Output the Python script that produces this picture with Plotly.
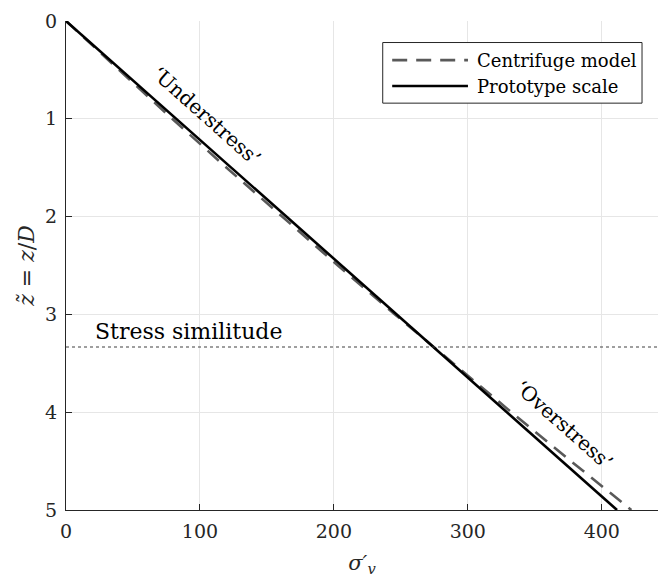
import plotly.graph_objects as go

# Normalised depth below the surface
z_norm = [0.0, 0.5, 1.0, 1.5, 2.0, 2.5, 3.0, 3.5, 4.0, 4.5, 5.0]
# Vertical effective stress in the centrifuge model (nonlinear g-field)
sigma_centrifuge = [0.0, 39.3, 79.3, 119.9, 161.1, 203.0, 245.6, 288.7, 332.5, 377.0, 422.1]
# Vertical effective stress at prototype scale (uniform gravity)
sigma_prototype = [0.0, 41.1, 82.3, 123.4, 164.6, 205.7, 246.9, 288.0, 329.2, 370.3, 411.4]
# Depth at which model and prototype stresses coincide
z_similitude = 10 / 3

x_ticks = [0, 100, 200, 300, 400]
y_ticks = [0, 1, 2, 3, 4, 5]

SERIF = "DejaVu Serif"
INK = "#262626"

fig = go.Figure()

fig.add_trace(go.Scatter(
    x=sigma_centrifuge, y=z_norm, mode="lines", name="Centrifuge model",
    line=dict(color="#595959", width=2.6, dash="15px,9px"), showlegend=False,
))
fig.add_trace(go.Scatter(
    x=sigma_prototype, y=z_norm, mode="lines", name="Prototype scale",
    line=dict(color="#000000", width=2.6), showlegend=False,
))

# Dotted line marking stress similitude
fig.add_shape(type="line", xref="paper", yref="y", x0=0, x1=1,
              y0=z_similitude, y1=z_similitude,
              line=dict(color="#404040", width=1.2, dash="dot"))

annotations = [
    dict(x=20, y=z_similitude, xref="x", yref="y", text="Stress similitude",
         showarrow=False, xanchor="left", yanchor="bottom", yshift=1,
         font=dict(family=SERIF, size=22, color="#000")),
    dict(x=105, y=0.97, xref="x", yref="y", text="\u2018Understress\u2019",
         showarrow=False, textangle=41.6,
         font=dict(family=SERIF, size=20, color="#000")),
    dict(x=372, y=4.13, xref="x", yref="y", text="\u2018Overstress\u2019",
         showarrow=False, textangle=41.6,
         font=dict(family=SERIF, size=20, color="#000")),
]

# Legend box drawn in paper coordinates
fig.add_shape(type="rect", xref="paper", yref="paper",
              x0=0.535, x1=0.973, y0=0.832, y1=0.956,
              line=dict(color=INK, width=1), fillcolor="white", layer="above")
fig.add_shape(type="line", xref="paper", yref="paper",
              x0=0.551, x1=0.679, y0=0.920, y1=0.920,
              line=dict(color="#595959", width=2.6, dash="15px,9px"), layer="above")
fig.add_shape(type="line", xref="paper", yref="paper",
              x0=0.551, x1=0.679, y0=0.867, y1=0.867,
              line=dict(color="#000000", width=2.6), layer="above")
annotations += [
    dict(x=0.691, y=0.920, xref="paper", yref="paper", text="Centrifuge model",
         showarrow=False, xanchor="left", yanchor="middle",
         font=dict(family=SERIF, size=18, color="#000")),
    dict(x=0.691, y=0.867, xref="paper", yref="paper", text="Prototype scale",
         showarrow=False, xanchor="left", yanchor="middle",
         font=dict(family=SERIF, size=18, color="#000")),
]

axis_common = dict(
    showgrid=True, gridcolor="#e6e6e6", gridwidth=1,
    showline=True, linecolor=INK, linewidth=1.2,
    ticks="inside", ticklen=6, tickcolor=INK, tickwidth=1,
    tickfont=dict(family=SERIF, size=19, color=INK),
    zeroline=False, mirror=False,
)

fig.update_xaxes(range=[0, 442], tickvals=x_ticks, ticklabelstandoff=4,
                 title=dict(text="<i>\u03c3\u2032<sub>v</sub></i>",
                            font=dict(family=SERIF, size=21, color=INK), standoff=14),
                 **axis_common)
fig.update_yaxes(range=[5, 0], tickvals=y_ticks, ticklabelstandoff=4,
                 title=dict(text="<i>z\u0303</i> = <i>z</i>/<i>D</i>",
                            font=dict(family=SERIF, size=22, color=INK), standoff=4),
                 **axis_common)

fig.update_layout(
    width=659, height=577,
    margin=dict(l=66, r=1, t=21, b=67),
    plot_bgcolor="white", paper_bgcolor="white",
    annotations=annotations, showlegend=False,
)

fig.write_html("out.html")
